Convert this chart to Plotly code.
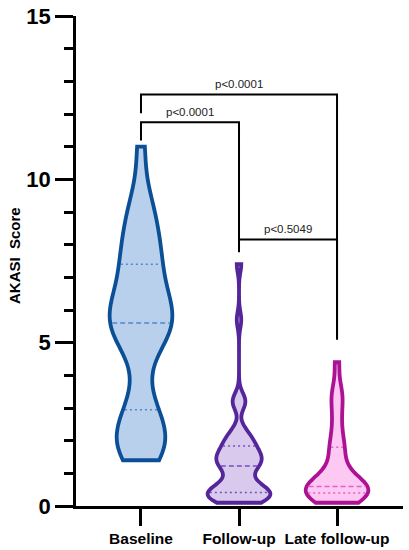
import numpy as np
import plotly.graph_objects as go

# ---------------- data ----------------
groups = ["Baseline", "Follow-up", "Late follow-up"]
baseline = [1.4, 1.6, 1.8, 2.0, 2.0, 2.1, 2.3, 2.8, 3.0, 3.4, 4.6, 5.0, 5.2, 5.4, 5.5, 5.6,
            5.6, 5.9, 6.1, 6.2, 6.4, 6.6, 7.0, 7.4, 7.4, 7.8, 8.0, 8.4, 8.8, 9.0, 9.6, 11.0]
follow_up = [0.1, 0.1, 0.2, 0.2, 0.2, 0.3, 0.3, 0.3, 0.3, 0.4, 0.4, 0.45, 0.5, 0.5, 0.6,
             0.6, 0.7, 0.8,
             1.0, 1.1, 1.2, 1.25, 1.3, 1.35, 1.4, 1.45, 1.5, 1.55, 1.6, 1.65, 1.8, 1.85,
             1.9, 2.0, 2.1, 2.2, 2.35,
             3.1, 3.2, 3.3, 5.7, 7.4]
late_follow_up = [0.1, 0.2, 0.2, 0.3, 0.3, 0.4, 0.4, 0.4, 0.5, 0.5, 0.5, 0.6, 0.6, 0.6,
                  0.6, 0.7, 0.8, 1.0, 1.2, 1.5, 1.8, 1.8, 2.2, 2.6, 3.0, 3.4, 3.5, 4.4]
series = [baseline, follow_up, late_follow_up]
bandwidths = [0.75, 0.25, 0.38]

line_colors = ["#0b4f96", "#55259a", "#ad1294"]
fill_colors = ["#b9d0ec", "#d9c9ec", "#fdc9f3"]
quart_colors = ["#4f86cc", "#7a4fc0", "#e060cc"]

y_tickvals = [0, 5, 10, 15]
y_title = "AKASI  Score"

# significance brackets: (left group idx, right group idx, bar level, left leg end, right leg end, label)
brackets = [
    (0, 2, 12.6, 12.02, 5.1, "p<0.0001"),
    (0, 1, 11.75, 11.19, 7.77, "p<0.0001"),
    (1, 2, 8.16, 7.83, 5.1, "p<0.5049"),
]

VIOLIN_WIDTH = 0.64
FONT = "Arial, Liberation Sans, sans-serif"

fig = go.Figure()


def kde(vals, bw, ys):
    v = np.asarray(vals, float)
    d = (np.asarray(ys, float)[:, None] - v[None, :]) / bw
    return np.exp(-0.5 * d ** 2).sum(axis=1) / (bw * len(v) * np.sqrt(2 * np.pi))


for i, (vals, bw) in enumerate(zip(series, bandwidths)):
    fig.add_trace(go.Violin(
        x=[i] * len(vals), y=vals, name=groups[i],
        bandwidth=bw, spanmode="hard", width=VIOLIN_WIDTH,
        points=False, box_visible=False, meanline_visible=False,
        line=dict(color=line_colors[i], width=3.8),
        fillcolor=fill_colors[i], hoverinfo="skip",
    ))
    # quartile lines
    lo, hi = min(vals), max(vals)
    n = int(np.ceil((hi - lo) / (bw / 3)))
    grid = np.linspace(lo, hi, n + 1)
    maxd = kde(vals, bw, grid).max()
    qs = np.percentile(vals, [25, 50, 75])
    for k, q in enumerate(qs):
        hw = VIOLIN_WIDTH / 2 * kde(vals, bw, [q])[0] / maxd - 0.02
        fig.add_trace(go.Scatter(
            x=[i - hw, i + hw], y=[q, q], mode="lines",
            line=dict(color=quart_colors[i], width=1.5,
                      dash="5px,3px" if k == 1 else "2px,3px"),
            hoverinfo="skip", showlegend=False,
        ))

for (a, b, lvl, l_end, r_end, txt) in brackets:
    fig.add_trace(go.Scatter(
        x=[a, a, b, b], y=[l_end, lvl, lvl, r_end], mode="lines",
        line=dict(color="black", width=2), hoverinfo="skip", showlegend=False,
    ))
    fig.add_annotation(x=(a + b) / 2, y=lvl, text=txt, showarrow=False,
                       yanchor="bottom", yshift=2,
                       font=dict(family=FONT, size=11.5, color="#222222"))

fig.add_annotation(xref="paper", yref="paper", x=-0.19, y=0.512, text=y_title,
                   textangle=-90, showarrow=False, xanchor="center", yanchor="middle",
                   font=dict(family=FONT, size=15, color="black", weight=700))

fig.update_layout(
    width=409, height=550,
    margin=dict(l=76, r=6, t=16, b=44),
    plot_bgcolor="white", paper_bgcolor="white",
    showlegend=False, hovermode=False,
    xaxis=dict(
        range=[-0.663, 2.673], tickvals=[0, 1, 2], ticktext=groups,
        showline=True, linecolor="black", linewidth=2.5,
        ticks="outside", ticklen=17, tickwidth=2.5, tickcolor="black",
        showgrid=False, zeroline=False, automargin=False,
        tickfont=dict(family=FONT, size=15.5, color="black", weight=700),
    ),
    yaxis=dict(
        range=[0, 15], tickvals=y_tickvals,
        showline=True, linecolor="black", linewidth=2.5,
        ticks="outside", ticklen=18, tickwidth=2.5, tickcolor="black",
        minor=dict(dtick=1, ticks="outside", ticklen=9, tickwidth=2.5,
                   tickcolor="black", showgrid=False),
        showgrid=False, zeroline=False, automargin=False,
        tickfont=dict(family=FONT, size=22, color="black", weight=700),
    ),
)

fig.write_html("out.html", config={"displayModeBar": False},
               post_script="document.body.style.margin='0px';document.body.style.padding='0px';")
